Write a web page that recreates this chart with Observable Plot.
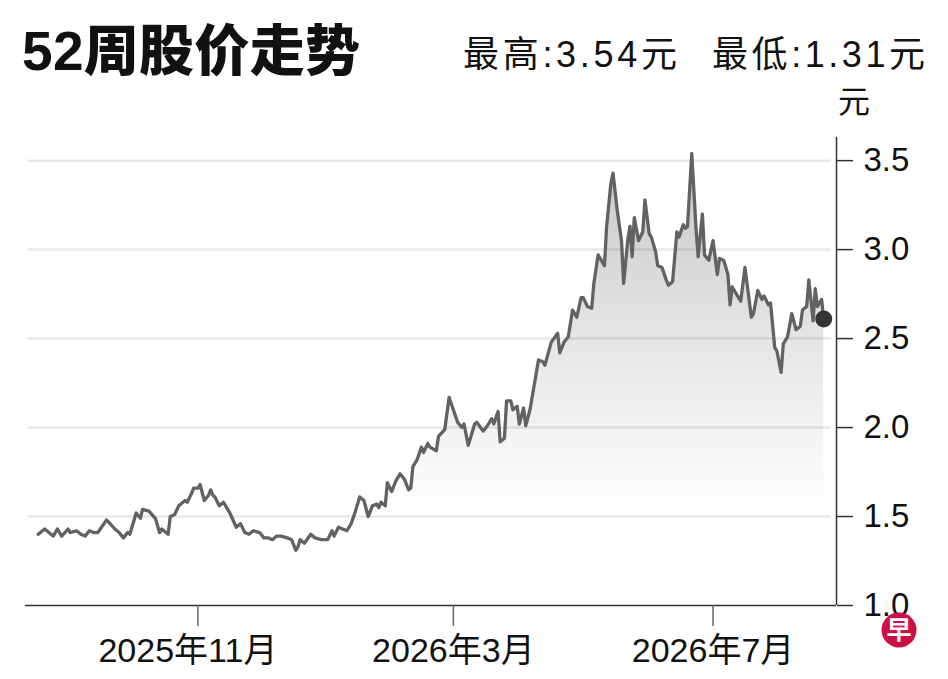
<!DOCTYPE html>
<html><head><meta charset="utf-8">
<script src="https://cdn.jsdelivr.net/npm/d3@7"></script>
<script src="https://cdn.jsdelivr.net/npm/@observablehq/plot@0.6"></script>
<style>
body{margin:0;background:#fff;}
#wrap{position:relative;width:948px;height:679px;overflow:hidden;background:#fff;}
</style></head><body><div id="wrap"></div>
<script>
const dates = [
"2025-08-18","2025-08-19","2025-08-21","2025-08-23","2025-08-25","2025-08-27","2025-08-29","2025-09-01","2025-09-02","2025-09-05",
"2025-09-07","2025-09-09","2025-09-11","2025-09-13","2025-09-15","2025-09-19","2025-09-20","2025-09-23","2025-09-25","2025-09-27",
"2025-09-29","2025-09-30","2025-10-03","2025-10-05","2025-10-06","2025-10-09","2025-10-12","2025-10-14","2025-10-15","2025-10-18",
"2025-10-19","2025-10-21","2025-10-23","2025-10-26","2025-10-27","2025-10-29","2025-10-30","2025-11-01","2025-11-02","2025-11-04",
"2025-11-06","2025-11-07","2025-11-08","2025-11-09","2025-11-11","2025-11-13","2025-11-16","2025-11-19","2025-11-21","2025-11-23",
"2025-11-25","2025-11-27","2025-11-30","2025-12-02","2025-12-04","2025-12-06","2025-12-08","2025-12-10","2025-12-13","2025-12-15",
"2025-12-17","2025-12-18","2025-12-19","2025-12-21","2025-12-24","2025-12-26","2025-12-29","2026-01-01","2026-01-03","2026-01-04",
"2026-01-06","2026-01-08","2026-01-10","2026-01-12","2026-01-14","2026-01-16","2026-01-18","2026-01-20","2026-01-22","2026-01-24",
"2026-01-25","2026-01-26","2026-01-28","2026-01-29","2026-01-31","2026-02-02","2026-02-04","2026-02-06","2026-02-08","2026-02-09",
"2026-02-10","2026-02-12","2026-02-14","2026-02-15","2026-02-17","2026-02-18","2026-02-21","2026-02-22","2026-02-25","2026-02-27",
"2026-03-01","2026-03-03","2026-03-05","2026-03-06","2026-03-08","2026-03-11","2026-03-12","2026-03-15","2026-03-17","2026-03-19",
"2026-03-20","2026-03-22","2026-03-23","2026-03-25","2026-03-26","2026-03-28","2026-03-29","2026-03-31","2026-04-01","2026-04-03",
"2026-04-04","2026-04-06","2026-04-10","2026-04-12","2026-04-13","2026-04-16","2026-04-19","2026-04-20","2026-04-22","2026-04-24",
"2026-04-26","2026-04-28","2026-04-30","2026-05-01","2026-05-03","2026-05-05","2026-05-06","2026-05-08","2026-05-11","2026-05-12",
"2026-05-14","2026-05-15","2026-05-17","2026-05-19","2026-05-20","2026-05-22","2026-05-23","2026-05-24","2026-05-25","2026-05-27",
"2026-05-29","2026-05-30","2026-06-01","2026-06-02","2026-06-04","2026-06-05","2026-06-07","2026-06-09","2026-06-10","2026-06-12",
"2026-06-14","2026-06-15","2026-06-17","2026-06-18","2026-06-19","2026-06-21","2026-06-23","2026-06-24","2026-06-26","2026-06-27",
"2026-06-29","2026-07-01","2026-07-03","2026-07-04","2026-07-06","2026-07-08","2026-07-09","2026-07-10","2026-07-12","2026-07-14",
"2026-07-16","2026-07-19","2026-07-20","2026-07-22","2026-07-24","2026-07-25","2026-07-27","2026-07-28","2026-07-30","2026-07-31",
"2026-08-02","2026-08-03","2026-08-05","2026-08-07","2026-08-09","2026-08-11","2026-08-12","2026-08-14","2026-08-15","2026-08-17",
"2026-08-18","2026-08-19","2026-08-21","2026-08-22"
];
const prices = [
1.40,1.41,1.43,1.41,1.39,1.43,1.39,1.43,1.41,1.42,
1.40,1.39,1.42,1.41,1.41,1.48,1.47,1.43,1.41,1.38,
1.41,1.40,1.52,1.49,1.54,1.53,1.49,1.41,1.43,1.40,
1.50,1.51,1.56,1.59,1.58,1.63,1.66,1.66,1.68,1.59,
1.62,1.65,1.62,1.61,1.56,1.58,1.52,1.44,1.46,1.41,
1.40,1.42,1.41,1.38,1.38,1.37,1.39,1.39,1.38,1.37,
1.31,1.33,1.37,1.35,1.40,1.38,1.37,1.37,1.42,1.39,
1.44,1.43,1.42,1.46,1.53,1.61,1.59,1.50,1.56,1.57,
1.55,1.58,1.56,1.69,1.64,1.70,1.74,1.71,1.65,1.66,
1.78,1.82,1.89,1.86,1.91,1.89,1.87,1.95,1.99,2.17,
2.10,2.03,2.00,2.02,1.90,2.02,2.03,1.98,2.01,2.05,
2.02,2.09,1.92,1.94,2.15,2.15,2.10,2.12,2.02,2.11,
2.01,2.10,2.38,2.37,2.35,2.48,2.53,2.42,2.48,2.51,
2.66,2.62,2.73,2.73,2.68,2.67,2.81,2.97,2.91,3.13,
3.37,3.43,3.22,3.05,2.81,3.06,3.13,2.96,3.18,3.05,
3.10,3.28,3.09,3.07,2.99,2.91,2.90,2.83,2.80,2.82,
3.10,3.07,3.14,3.12,3.13,3.54,3.12,2.96,3.20,2.97,
2.94,3.05,2.86,2.95,2.94,2.86,2.69,2.79,2.75,2.71,
2.90,2.62,2.64,2.77,2.72,2.74,2.69,2.70,2.45,2.43,
2.31,2.47,2.51,2.64,2.55,2.57,2.66,2.68,2.83,2.60,
2.78,2.68,2.72,2.61
];
const yTicks = [1.0, 1.5, 2.0, 2.5, 3.0, 3.5];
const xTicks = ["2025-11-01", "2026-03-01", "2026-07-01"];
const xDomain = ["2025-08-12", "2026-08-28"];
const yDomain = [1.0, 3.63];
const titleText = "52周股价走势";
const highText = "最高:3.54元";
const lowText = "最低:1.31元";
const unitText = "元";
const logoText = "早";

const data = dates.map((d, i) => ({date: new Date(d), price: prices[i]}));
const last = data[data.length - 1];
const font = '"Liberation Sans", Arial, "Noto Sans CJK SC", sans-serif';
const NS = "http://www.w3.org/2000/svg";

function gradientDefs() {
  const defs = document.createElementNS(NS, "defs");
  const g = document.createElementNS(NS, "linearGradient");
  g.setAttribute("id", "areaGrad");
  g.setAttribute("x1", "0"); g.setAttribute("y1", "0");
  g.setAttribute("x2", "0"); g.setAttribute("y2", "1");
  [[0, 0.22], [0.45, 0.09], [0.8, 0]].forEach(([o, a]) => {
    const s = document.createElementNS(NS, "stop");
    s.setAttribute("offset", o);
    s.setAttribute("stop-color", "#000");
    s.setAttribute("stop-opacity", a);
    g.appendChild(s);
  });
  defs.appendChild(g);
  return defs;
}

const xFormat = d => `${d.getUTCFullYear()}年${d.getUTCMonth() + 1}月`;
const xTickDates = xTicks.map(d => new Date(d));
const xLabelOpts = {label: null, tickFormat: xFormat, tickSize: 0, tickPadding: 32, fontSize: 34, fill: "#111"};

const chart = Plot.plot({
  width: 948,
  height: 679,
  marginTop: 137,
  marginBottom: 74,
  marginLeft: 25,
  marginRight: 112,
  style: {fontFamily: font, fontSize: "33px", background: "#fff", color: "#111", overflow: "visible"},
  x: {type: "utc", domain: xDomain.map(d => new Date(d)), axis: null, label: null},
  y: {domain: yDomain, axis: null, label: null},
  marks: [
    gradientDefs,
    Plot.ruleY(yTicks.filter(v => v > 1), {stroke: "#e9e9e9", strokeWidth: 2.5, insetLeft: 3, insetRight: 5}),
    Plot.areaY(data, {x: "date", y1: yDomain[0], y2: "price", fill: "url(#areaGrad)"}),
    Plot.line(data, {x: "date", y: "price", stroke: "#626262", strokeWidth: 3.3}),
    Plot.ruleY([yDomain[0]], {stroke: "#333", strokeWidth: 1.5}),
    Plot.ruleX([new Date(xDomain[1])], {stroke: "#333", strokeWidth: 1.5}),
    Plot.axisY({anchor: "right", ticks: yTicks, tickFormat: d3.format(".1f"), tickSize: 16, tickPadding: 11,
      label: null, fontSize: 33, stroke: "#333", strokeWidth: 1.5, fill: "#111"}),
    Plot.axisX({ticks: xTickDates, tickFormat: () => "", label: null, tickSize: 21, stroke: "#666", strokeWidth: 1.5}),
    Plot.axisX({...xLabelOpts, ticks: xTickDates.slice(0, 1), dx: -10}),
    Plot.axisX({...xLabelOpts, ticks: xTickDates.slice(1)}),
    Plot.dot([last], {x: "date", y: "price", r: 8.5, fill: "#333", stroke: "none"})
  ]
});

// header texts and logo
const svg = d3.select(chart);
const addText = (x, y, size, txt) => svg.append("text").attr("x", x).attr("y", y)
  .attr("text-anchor", "start").attr("font-family", font).attr("font-size", size).attr("fill", "#111").text(txt);
addText(22, 70, 55, titleText).attr("font-weight", 900).attr("textLength", 338).attr("lengthAdjust", "spacing");
addText(463, 66.5, 36, highText).attr("textLength", 214).attr("lengthAdjust", "spacing");
addText(712, 66.5, 36, lowText).attr("textLength", 213).attr("lengthAdjust", "spacing");
addText(838, 113, 32, unitText);
svg.append("circle").attr("cx", 899).attr("cy", 630).attr("r", 17.5).attr("fill", "#cc0f45");
svg.append("text").attr("x", 899).attr("y", 639).attr("text-anchor", "middle")
  .attr("font-family", '"Noto Sans CJK SC", sans-serif').attr("font-size", 25).attr("font-weight", 700)
  .attr("fill", "#fff").text(logoText);

document.getElementById("wrap").appendChild(chart);
</script>
</body></html>
